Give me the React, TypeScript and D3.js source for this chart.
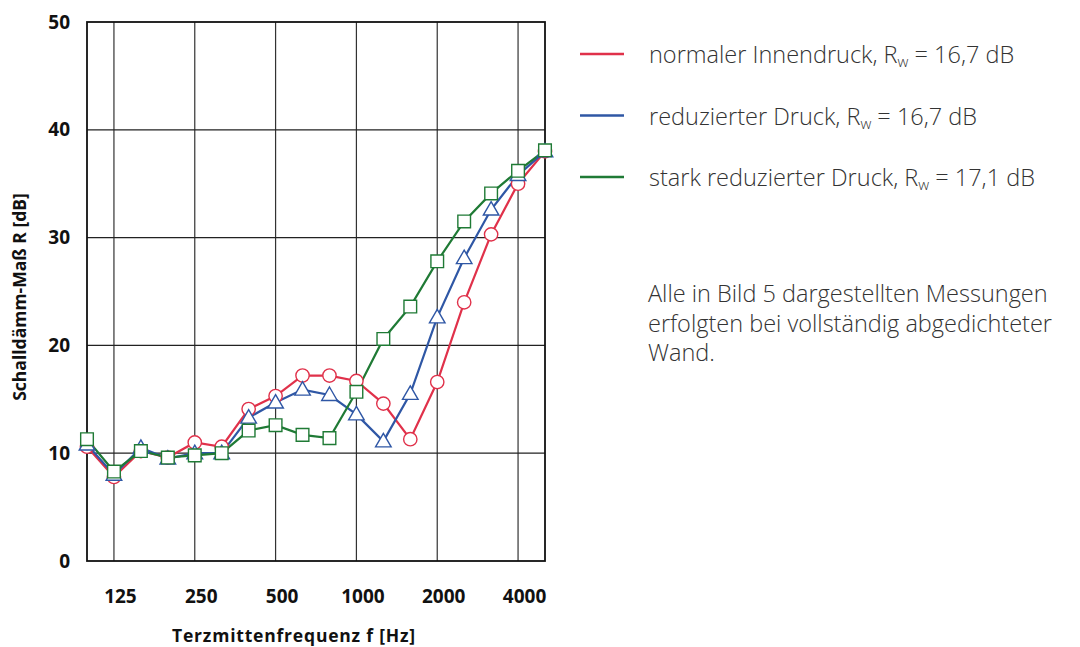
import React, { useEffect, useRef } from 'react';
import * as d3 from 'd3';

// Terzmittenfrequenzen (Hz)
const freqs = ['100', '125', '160', '200', '250', '315', '400', '500', '630', '800',
  '1000', '1250', '1600', '2000', '2500', '3150', '4000', '5000'];
const labelFreqs = ['125', '250', '500', '1000', '2000', '4000'];
const yTicks = [0, 10, 20, 30, 40, 50];

// Schalldämm-Maß R [dB]
const normal = [10.6, 7.8, 10.2, 9.6, 11.0, 10.6, 14.1, 15.3, 17.2, 17.2, 16.7, 14.6, 11.3, 16.6, 24.0, 30.3, 35.0, 38.0];
const reduced = [10.8, 8.0, 10.5, 9.5, 10.0, 10.0, 13.3, 14.7, 15.9, 15.4, 13.6, 11.1, 15.5, 22.6, 28.1, 32.6, 35.8, 38.0];
const strong = [11.3, 8.3, 10.2, 9.6, 9.8, 10.0, 12.1, 12.6, 11.7, 11.4, 15.7, 20.6, 23.6, 27.8, 31.5, 34.1, 36.2, 38.1];

const seriesNames = ['normaler Innendruck, R', 'reduzierter Druck, R', 'stark reduzierter Druck, R'];
const seriesRw = [' = 16,7 dB', ' = 16,7 dB', ' = 17,1 dB'];
const noteLines = ['Alle in Bild 5 dargestellten Messungen', 'erfolgten bei vollständig abgedichteter', 'Wand.'];

const App = () => {
  const svgRef = useRef<SVGSVGElement>(null);

  useEffect(() => {
    const svg = d3.select(svgRef.current);
    svg.selectAll('*').remove();

    const width = 1080;
    const height = 647;
    const margin = { top: 22, right: 535, bottom: 86, left: 87 };
    const font = '"Open Sans", "DejaVu Sans", sans-serif';

    const x = d3.scalePoint<string>()
      .domain(freqs)
      .range([margin.left, width - margin.right]);

    const y = d3.scaleLinear()
      .domain([0, 50])
      .range([height - margin.bottom, margin.top]);

    svg.append('rect').attr('width', width).attr('height', height).attr('fill', '#fff');

    // grid
    const grid = svg.append('g');
    grid.selectAll('line.v')
      .data(labelFreqs)
      .join('line')
      .attr('x1', d => x(d)!).attr('x2', d => x(d)!)
      .attr('y1', y(0)).attr('y2', y(50))
      .attr('stroke', '#333').attr('stroke-width', 1.2);
    grid.selectAll('line.h')
      .data(yTicks.slice(1, -1))
      .join('line')
      .attr('x1', x('100')!).attr('x2', x('5000')!)
      .attr('y1', d => y(d)).attr('y2', d => y(d))
      .attr('stroke', '#222').attr('stroke-width', 1.2);
    grid.append('rect')
      .attr('x', x('100')!).attr('y', y(50))
      .attr('width', x('5000')! - x('100')!).attr('height', y(0) - y(50))
      .attr('fill', 'none').attr('stroke', '#111').attr('stroke-width', 1.8);

    // axes
    const xAxis = svg.append('g')
      .attr('transform', `translate(0,${y(0)})`)
      .call(d3.axisBottom(x).tickValues(labelFreqs).tickSize(0).tickPadding(29));
    xAxis.select('.domain').remove();
    xAxis.selectAll('text')
      .attr('dx', 6)
      .style('font-family', font).style('font-size', '19px').style('font-weight', 700).attr('fill', '#111');

    const yAxis = svg.append('g')
      .attr('transform', `translate(${margin.left},0)`)
      .call(d3.axisLeft(y).tickValues(yTicks).tickSize(0).tickPadding(17));
    yAxis.select('.domain').remove();
    yAxis.selectAll('text')
      .style('font-family', font).style('font-size', '19px').style('font-weight', 700).attr('fill', '#111');

    svg.append('text')
      .attr('x', 294).attr('y', 642)
      .attr('text-anchor', 'middle')
      .style('font-family', font).style('font-size', '17.5px').style('font-weight', 700)
      .style('letter-spacing', '0.8px')
      .attr('fill', '#111')
      .text('Terzmittenfrequenz f [Hz]');

    svg.append('text')
      .attr('transform', 'translate(26,297) rotate(-90)')
      .attr('text-anchor', 'middle')
      .style('font-family', font).style('font-size', '17.5px').style('font-weight', 700)
      .attr('fill', '#111')
      .text('Schalldämm-Maß R [dB]');

    // series
    const series = [
      { values: normal, color: '#e0314a', shape: 'circle' },
      { values: reduced, color: '#2f57a5', shape: 'triangle' },
      { values: strong, color: '#1f7a35', shape: 'square' },
    ];

    const line = d3.line<number>()
      .x((_, i) => x(freqs[i])!)
      .y(d => y(d));

    series.forEach(s => {
      svg.append('path')
        .datum(s.values)
        .attr('d', line)
        .attr('fill', 'none')
        .attr('stroke', s.color)
        .attr('stroke-width', 2.2);
    });

    series.forEach(s => {
      const sym = s.shape === 'circle' ? d3.symbolCircle : s.shape === 'triangle' ? d3.symbolTriangle : d3.symbolSquare;
      const size = s.shape === 'circle' ? 140 : s.shape === 'triangle' ? 105 : 160;
      svg.append('g')
        .selectAll('path')
        .data(s.values)
        .join('path')
        .attr('transform', (d, i) => `translate(${x(freqs[i])},${y(d) + (s.shape === 'triangle' ? 1 : 0)})`)
        .attr('d', d3.symbol().type(sym).size(size)())
        .attr('fill', '#fff')
        .attr('stroke', s.color)
        .attr('stroke-width', 1.4);
    });

    // legend
    const legend = svg.append('g');
    series.forEach((s, i) => {
      const ly = 54 + i * 61.5;
      legend.append('line')
        .attr('x1', 580).attr('x2', 624)
        .attr('y1', ly).attr('y2', ly)
        .attr('stroke', s.color).attr('stroke-width', 2.5);
      const t = legend.append('text')
        .attr('x', 649).attr('y', ly + 9)
        .style('font-family', font).style('font-size', '23.5px').style('font-weight', 300)
        .attr('fill', '#333');
      t.append('tspan').text(seriesNames[i]);
      t.append('tspan').attr('dy', 4).style('font-size', '15px').text('w');
      t.append('tspan').attr('dy', -4).text(seriesRw[i]);
    });

    svg.append('text')
      .style('font-family', font).style('font-size', '23.5px').style('font-weight', 300)
      .attr('fill', '#333')
      .selectAll('tspan')
      .data(noteLines)
      .join('tspan')
      .attr('x', 648)
      .attr('y', (_, i) => 302 + i * 29.5)
      .text(d => d);
  }, []);

  return <svg ref={svgRef} width={1080} height={647} style={{ display: 'block', position: 'absolute', left: 0, top: 0 }}></svg>;
};

export default App;
